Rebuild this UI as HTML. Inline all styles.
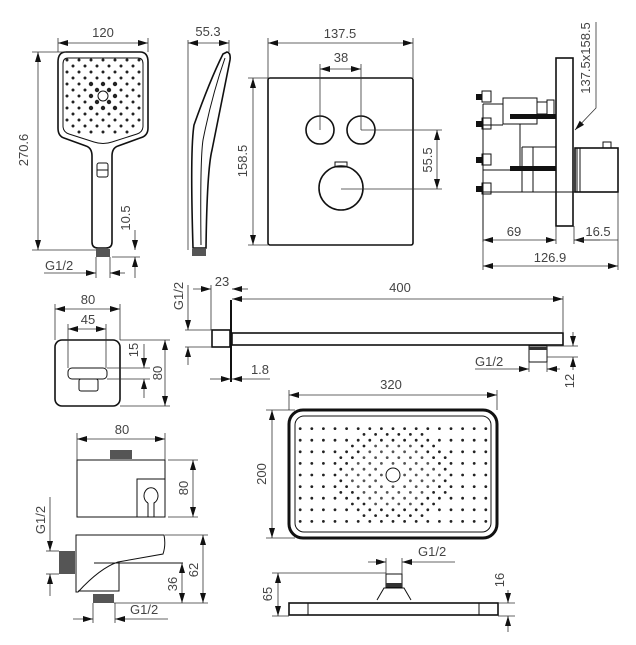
<!DOCTYPE html>
<html><head><meta charset="utf-8"><style>
html,body{margin:0;padding:0;background:#fff}
svg{display:block}
text{font-family:"Liberation Sans",sans-serif;font-size:13px;fill:#444}
.d{stroke:#333;stroke-width:0.8;fill:none}
.o{stroke:#111;stroke-width:1.6;fill:none}
.t{stroke:#111;stroke-width:1;fill:none}
</style></head><body>
<svg id="s" width="636" height="645" viewBox="0 0 636 645" xmlns="http://www.w3.org/2000/svg">
<defs>
<marker id="a" viewBox="0 0 10 6" refX="10" refY="3" markerWidth="10" markerHeight="6" orient="auto-start-reverse" markerUnits="userSpaceOnUse"><path d="M0,0L10,3L0,6z" fill="#111"/></marker>
</defs>

<!-- Hand shower front -->
<path class="o" d="M66,52 H140 Q148,52 148,62 V128 Q148,136 140,138 L118,146 Q112,148 112,156 V242 Q112,248 106,248 H98 Q92,248 92,242 V156 Q92,148 86,146 L64,138 Q58,136 58,128 V62 Q58,52 66,52z"/>
<path class="t" d="M68,58 H138 Q143,58 143,64 V126 Q143,132 137,134 L112,142 Q103,145 94,142 L69,134 Q63,132 63,126 V64 Q63,58 68,58z"/>
<circle cx="103" cy="96" r="5" class="t"/>
<rect x="97" y="163" width="11" height="14" rx="2" class="t"/><line x1="97" y1="170" x2="108" y2="170" class="t"/>
<rect x="96" y="249" width="14" height="8" fill="#555"/>
<g id="hsdots"></g>
<line class="d" x1="58" y1="52" x2="58" y2="38"/><line class="d" x1="148" y1="52" x2="148" y2="38"/>
<line class="d" x1="58" y1="43" x2="148" y2="43" marker-start="url(#a)" marker-end="url(#a)"/>
<text x="103" y="37" text-anchor="middle">120</text>
<line class="d" x1="32" y1="52" x2="66" y2="52"/><line class="d" x1="32" y1="250" x2="96" y2="250"/>
<line class="d" x1="38" y1="52" x2="38" y2="250" marker-start="url(#a)" marker-end="url(#a)"/>
<text transform="translate(28,150) rotate(-90)" text-anchor="middle">270.6</text>
<line class="d" x1="112" y1="257" x2="140" y2="257"/>
<line class="d" x1="135" y1="230" x2="135" y2="250" marker-end="url(#a)"/>
<line class="d" x1="135" y1="278" x2="135" y2="257" marker-end="url(#a)"/>
<text transform="translate(130,218) rotate(-90)" text-anchor="middle">10.5</text>
<line class="d" x1="96" y1="257" x2="96" y2="278"/><line class="d" x1="110" y1="257" x2="110" y2="278"/>
<line class="d" x1="44" y1="273" x2="96" y2="273" marker-end="url(#a)"/>
<line class="d" x1="125" y1="273" x2="110" y2="273" marker-end="url(#a)"/>
<text x="45" y="270">G1/2</text>

<!-- Hand shower side -->
<path class="o" d="M227,52 Q231,53 230,60 Q222,100 212,150 Q207,170 206,248 H193 Q190,150 194,125 Q210,80 223,54 Z"/>
<path class="t" d="M225,58 Q212,95 203,140 Q200,160 201,245"/>
<rect x="192" y="249" width="14" height="7" fill="#555"/>
<line class="d" x1="188" y1="40" x2="188" y2="250"/><line class="d" x1="229" y1="40" x2="229" y2="52"/>
<line class="d" x1="188" y1="43" x2="229" y2="43" marker-start="url(#a)" marker-end="url(#a)"/>
<text x="208" y="36" text-anchor="middle">55.3</text>

<!-- Control panel -->
<rect x="268" y="78" width="145" height="167" rx="2" class="o"/>
<circle cx="320" cy="130" r="14" class="o"/><circle cx="361" cy="130" r="14" class="o"/>
<circle cx="341" cy="188" r="22" class="o"/><rect x="335" y="162" width="12" height="5" class="t"/>
<line class="d" x1="268" y1="38" x2="268" y2="78"/><line class="d" x1="413" y1="38" x2="413" y2="78"/>
<line class="d" x1="268" y1="43" x2="413" y2="43" marker-start="url(#a)" marker-end="url(#a)"/>
<text x="340" y="38" text-anchor="middle">137.5</text>
<line class="d" x1="320" y1="64" x2="320" y2="130"/><line class="d" x1="361" y1="64" x2="361" y2="130"/>
<line class="d" x1="320" y1="69" x2="361" y2="69" marker-start="url(#a)" marker-end="url(#a)"/>
<text x="341" y="62" text-anchor="middle">38</text>
<line class="d" x1="361" y1="130" x2="442" y2="130"/><line class="d" x1="341" y1="189" x2="442" y2="189"/>
<line class="d" x1="437" y1="130" x2="437" y2="189" marker-start="url(#a)" marker-end="url(#a)"/>
<text transform="translate(432,160) rotate(-90)" text-anchor="middle">55.5</text>
<line class="d" x1="248" y1="78" x2="268" y2="78"/><line class="d" x1="248" y1="245" x2="268" y2="245"/>
<line class="d" x1="253" y1="78" x2="253" y2="245" marker-start="url(#a)" marker-end="url(#a)"/>
<text transform="translate(247,161) rotate(-90)" text-anchor="middle">158.5</text>

<!-- Valve side view -->
<rect x="556" y="58" width="17" height="168" class="o"/>
<rect x="575" y="148" width="43" height="44" class="o"/><rect x="577" y="148" width="3" height="44" class="t"/>
<rect x="603" y="142" width="8" height="6" class="t"/>
<rect x="537" y="150" width="4" height="3" fill="#fff"/>
<rect x="503" y="98" width="34" height="26" class="t"/>
<line class="t" x1="483" y1="104" x2="483" y2="242"/>
<line class="t" x1="483" y1="104" x2="503" y2="104"/>
<line class="t" x1="483" y1="125" x2="503" y2="125"/>
<line class="t" x1="483" y1="170" x2="556" y2="170"/>
<line class="t" x1="483" y1="192" x2="575" y2="192"/>
<line class="t" x1="520" y1="124" x2="520" y2="170"/>
<line class="t" x1="522" y1="147" x2="556" y2="147"/>
<line class="t" x1="522" y1="147" x2="522" y2="192"/>
<line class="t" x1="533" y1="147" x2="533" y2="192"/>
<rect x="510" y="114" width="46" height="5" fill="#111"/>
<rect x="510" y="166" width="46" height="5" fill="#111"/>
<rect x="537" y="102" width="10" height="12" class="t"/><rect x="547" y="100" width="7" height="16" class="t"/>
<g fill="#111"><rect x="476" y="94" width="6" height="6"/><rect x="476" y="121" width="6" height="6"/><rect x="476" y="157" width="6" height="6"/><rect x="476" y="186" width="6" height="6"/></g>
<g class="t"><rect x="482" y="91" width="9" height="11"/><rect x="482" y="118" width="9" height="11"/><rect x="482" y="154" width="9" height="11"/><rect x="482" y="183" width="9" height="11"/></g>
<line class="d" x1="483" y1="230" x2="483" y2="270"/><line class="d" x1="618" y1="192" x2="618" y2="270"/>
<line class="d" x1="556" y1="226" x2="556" y2="244"/><line class="d" x1="574" y1="226" x2="574" y2="244"/>
<line class="d" x1="483" y1="240" x2="556" y2="240" marker-start="url(#a)" marker-end="url(#a)"/>
<line class="d" x1="600" y1="240" x2="574" y2="240" marker-end="url(#a)"/>
<line class="d" x1="574" y1="240" x2="618" y2="240"/>
<text x="514" y="236" text-anchor="middle">69</text>
<text x="598" y="236" text-anchor="middle">16.5</text>
<line class="d" x1="483" y1="266" x2="618" y2="266" marker-start="url(#a)" marker-end="url(#a)"/>
<text x="550" y="262" text-anchor="middle">126.9</text>
<polyline class="d" points="596,22 596,108 575,130" marker-end="url(#a)"/>
<text transform="translate(590,58) rotate(-90)" text-anchor="middle">137.5x158.5</text>

<!-- Wall outlet front -->
<rect x="55" y="340" width="65" height="66" rx="7" class="o"/>
<rect x="68" y="368" width="39" height="11" rx="4" class="t"/>
<rect x="79" y="379" width="19" height="12" rx="2" class="t"/>
<line class="d" x1="55" y1="304" x2="55" y2="340"/><line class="d" x1="120" y1="304" x2="120" y2="340"/>
<line class="d" x1="55" y1="309" x2="120" y2="309" marker-start="url(#a)" marker-end="url(#a)"/>
<text x="88" y="304" text-anchor="middle">80</text>
<line class="d" x1="68" y1="324" x2="68" y2="368"/><line class="d" x1="106" y1="324" x2="106" y2="368"/>
<line class="d" x1="68" y1="329" x2="106" y2="329" marker-start="url(#a)" marker-end="url(#a)"/>
<text x="88" y="324" text-anchor="middle">45</text>
<line class="d" x1="120" y1="340" x2="170" y2="340"/><line class="d" x1="107" y1="368" x2="150" y2="368"/>
<line class="d" x1="120" y1="406" x2="170" y2="406"/>
<line class="d" x1="144" y1="344" x2="144" y2="368" marker-end="url(#a)"/>
<line class="d" x1="144" y1="398" x2="144" y2="379" marker-end="url(#a)"/>
<line class="d" x1="107" y1="379" x2="150" y2="379"/>
<text transform="translate(138,350) rotate(-90)" text-anchor="middle">15</text>
<line class="d" x1="165" y1="340" x2="165" y2="406" marker-start="url(#a)" marker-end="url(#a)"/>
<text transform="translate(162,373) rotate(-90)" text-anchor="middle">80</text>

<!-- Shower arm -->
<line x1="231" y1="300" x2="231" y2="382" stroke="#111" stroke-width="2"/>
<rect x="212" y="330" width="18" height="17" class="o"/>
<rect x="232" y="333" width="331" height="12" class="o"/>
<rect x="529" y="346" width="18" height="16" class="t"/><rect x="529" y="347" width="18" height="3" fill="#333"/>
<line class="d" x1="211" y1="285" x2="211" y2="330"/>
<line class="d" x1="193" y1="289" x2="211" y2="289" marker-end="url(#a)"/>
<line class="d" x1="248" y1="289" x2="232" y2="289" marker-end="url(#a)"/>
<text x="222" y="286" text-anchor="middle">23</text>
<line class="d" x1="563" y1="296" x2="563" y2="333"/>
<line class="d" x1="232" y1="299" x2="563" y2="299" marker-start="url(#a)" marker-end="url(#a)"/>
<text x="400" y="292" text-anchor="middle">400</text>
<line class="d" x1="185" y1="330" x2="212" y2="330"/><line class="d" x1="185" y1="347" x2="212" y2="347"/>
<line class="d" x1="188" y1="285" x2="188" y2="330" marker-end="url(#a)"/>
<line class="d" x1="188" y1="365" x2="188" y2="347" marker-end="url(#a)"/>
<text transform="translate(183,296) rotate(-90)" text-anchor="middle">G1/2</text>
<line class="d" x1="210" y1="379" x2="231" y2="379" marker-end="url(#a)"/>
<line class="d" x1="270" y1="379" x2="232" y2="379" marker-end="url(#a)"/>
<text x="260" y="374" text-anchor="middle">1.8</text>
<line class="d" x1="529" y1="362" x2="529" y2="372"/><line class="d" x1="547" y1="362" x2="547" y2="372"/>
<line class="d" x1="475" y1="369" x2="529" y2="369" marker-end="url(#a)"/>
<line class="d" x1="560" y1="369" x2="547" y2="369" marker-end="url(#a)"/>
<text x="475" y="366">G1/2</text>
<line class="d" x1="547" y1="346" x2="578" y2="346"/><line class="d" x1="547" y1="357" x2="578" y2="357"/>
<line class="d" x1="573" y1="332" x2="573" y2="346" marker-end="url(#a)"/>
<line class="d" x1="573" y1="370" x2="573" y2="357" marker-end="url(#a)"/>
<text transform="translate(574,381) rotate(-90)" text-anchor="middle">12</text>

<!-- Rain head top -->
<rect x="289" y="410" width="208" height="128" rx="14" stroke="#111" stroke-width="3" fill="none"/>
<rect x="295" y="416" width="196" height="116" rx="9" class="t"/>
<circle cx="393" cy="475" r="7" class="t"/>
<g id="rdots" fill="#222"></g>
<line class="d" x1="289" y1="390" x2="289" y2="410"/><line class="d" x1="497" y1="390" x2="497" y2="410"/>
<line class="d" x1="289" y1="395" x2="497" y2="395" marker-start="url(#a)" marker-end="url(#a)"/>
<text x="391" y="389" text-anchor="middle">320</text>
<line class="d" x1="266" y1="410" x2="295" y2="410"/><line class="d" x1="266" y1="538" x2="295" y2="538"/>
<line class="d" x1="272" y1="410" x2="272" y2="538" marker-start="url(#a)" marker-end="url(#a)"/>
<text transform="translate(266,474) rotate(-90)" text-anchor="middle">200</text>

<!-- Rain head side -->
<rect x="289" y="603" width="209" height="12" class="o"/>
<line class="t" x1="308" y1="603" x2="308" y2="615"/><line class="t" x1="479" y1="603" x2="479" y2="615"/>
<path class="t" d="M377,600 L384,588 H404 L411,600"/>
<rect x="386" y="574" width="16" height="13" class="t"/><rect x="386" y="583" width="16" height="4" fill="#333"/>
<line class="d" x1="386" y1="558" x2="386" y2="574"/><line class="d" x1="402" y1="558" x2="402" y2="574"/>
<line class="d" x1="368" y1="562" x2="386" y2="562" marker-end="url(#a)"/>
<line class="d" x1="455" y1="562" x2="402" y2="562" marker-end="url(#a)"/>
<text x="418" y="556">G1/2</text>
<line class="d" x1="272" y1="573" x2="386" y2="573"/><line class="d" x1="272" y1="616" x2="289" y2="616"/>
<line class="d" x1="278" y1="573" x2="278" y2="616" marker-start="url(#a)" marker-end="url(#a)"/>
<text transform="translate(272,594) rotate(-90)" text-anchor="middle">65</text>
<line class="d" x1="498" y1="616" x2="515" y2="616"/><line class="d" x1="498" y1="603" x2="515" y2="603"/>
<line class="d" x1="508" y1="590" x2="508" y2="603" marker-end="url(#a)"/>
<line class="d" x1="508" y1="632" x2="508" y2="616" marker-end="url(#a)"/>
<text transform="translate(504,580) rotate(-90)" text-anchor="middle">16</text>

<!-- Wall holder top -->
<rect x="77" y="460" width="88" height="57" class="t"/>
<rect x="137" y="479" width="28" height="38" class="t"/>
<path class="t" d="M148,503 A7,8 0 1 1 154,503 V517 M148,503 V517"/>
<rect x="110" y="450" width="22" height="9" fill="#555"/>
<line class="d" x1="77" y1="433" x2="77" y2="460"/><line class="d" x1="165" y1="433" x2="165" y2="460"/>
<line class="d" x1="77" y1="439" x2="165" y2="439" marker-start="url(#a)" marker-end="url(#a)"/>
<text x="122" y="434" text-anchor="middle">80</text>
<line class="d" x1="168" y1="460" x2="198" y2="460"/><line class="d" x1="168" y1="517" x2="198" y2="517"/>
<line class="d" x1="193" y1="460" x2="193" y2="517" marker-start="url(#a)" marker-end="url(#a)"/>
<text transform="translate(188,488) rotate(-90)" text-anchor="middle">80</text>

<!-- Wall holder side -->
<path class="t" d="M76,535 H164 Q166,545 163,554 L118,562 Q100,568 78,592 H76 Z"/>
<path class="t" d="M94,563 H183 M119,562 V591 H78"/>
<rect x="59" y="551" width="16" height="23" fill="#555"/>
<rect x="93" y="594" width="21" height="9" fill="#555"/>
<line class="d" x1="165" y1="535" x2="208" y2="535"/><line class="d" x1="114" y1="603" x2="208" y2="603"/>
<line class="d" x1="203" y1="535" x2="203" y2="603" marker-start="url(#a)" marker-end="url(#a)"/>
<text transform="translate(198,570) rotate(-90)" text-anchor="middle">62</text>
<line class="d" x1="182" y1="563" x2="182" y2="603" marker-start="url(#a)" marker-end="url(#a)"/>
<text transform="translate(177,584) rotate(-90)" text-anchor="middle">36</text>
<line class="d" x1="46" y1="551" x2="59" y2="551"/><line class="d" x1="46" y1="574" x2="59" y2="574"/>
<line class="d" x1="50" y1="497" x2="50" y2="551" marker-end="url(#a)"/>
<line class="d" x1="50" y1="596" x2="50" y2="574" marker-end="url(#a)"/>
<text transform="translate(45,520) rotate(-90)" text-anchor="middle">G1/2</text>
<line class="d" x1="93" y1="603" x2="93" y2="623"/><line class="d" x1="115" y1="603" x2="115" y2="623"/>
<line class="d" x1="73" y1="619" x2="93" y2="619" marker-end="url(#a)"/>
<line class="d" x1="168" y1="619" x2="115" y2="619" marker-end="url(#a)"/>
<text x="130" y="614">G1/2</text>
</svg>
<script>
(function(){
var ns="http://www.w3.org/2000/svg";
function dot(g,x,y,r,c){var e=document.createElementNS(ns,"circle");e.setAttribute("cx",x);e.setAttribute("cy",y);e.setAttribute("r",r);e.setAttribute("fill",c||"#222");g.appendChild(e);}
var h=document.getElementById("hsdots");
for(var i=-6;i<=6;i++)for(var j=-6;j<=6;j++){var x=103+i*6,y=96+j*6;if((i+j)%2)continue;var d=Math.max(Math.abs(i),Math.abs(j));if(d==0)continue;if(Math.abs(i)+Math.abs(j)>10&&j>3)continue;dot(h,x,y,d<3?2.2:1.5);}
var r=document.getElementById("rdots");
for(var i=-16;i<=16;i++)for(var j=-9;j<=9;j++){if((i+j)%2)continue;var x=393+i*5.8,y=475+j*5.8;if(x<300||x>486||y<421||y>529)continue;if(i==0&&j==0)continue;var d=Math.sqrt(i*i/1.8+j*j);if(d<1.3)continue;if(Math.abs(i)%2==1&&d>8)continue;dot(r,x,y,1.4,d<6?"#555":"#222");}
})();
</script>
</body></html>
